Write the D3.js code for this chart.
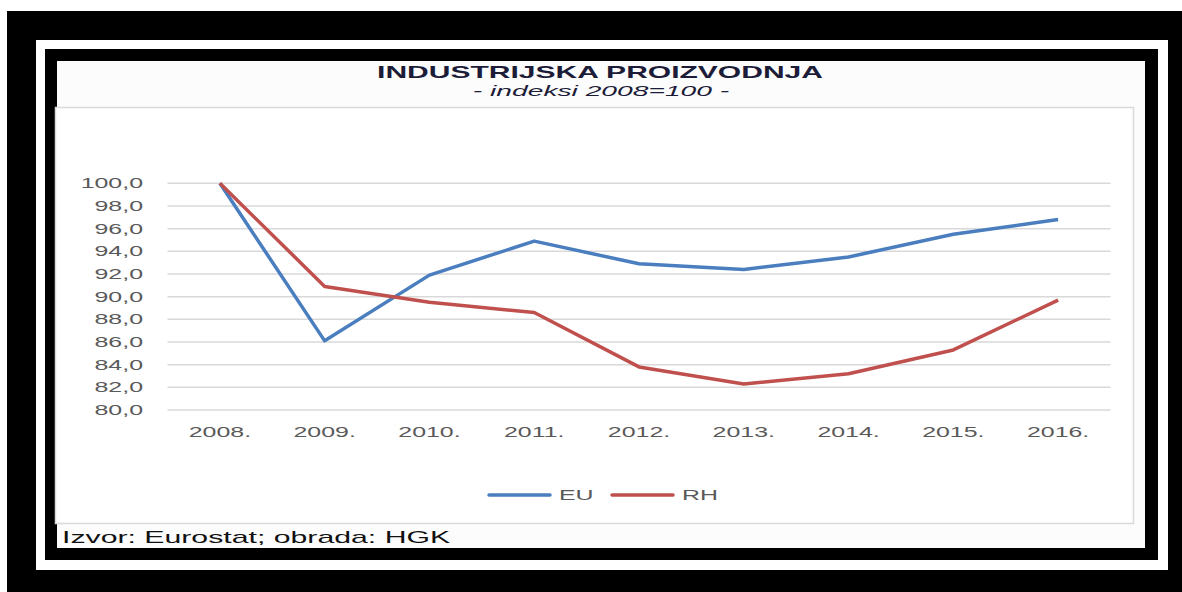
<!DOCTYPE html>
<html>
<head>
<meta charset="utf-8">
<script src="https://cdn.jsdelivr.net/npm/d3@7"></script>
<style>
  body { margin: 0; background: #fff; }
  text { font-family: "Liberation Sans", Arial, sans-serif; }
</style>
</head>
<body>
<div id="chart"></div>
<script>
// data
var years = ["2008.", "2009.", "2010.", "2011.", "2012.", "2013.", "2014.", "2015.", "2016."];
var euValues = [100.0, 86.1, 91.9, 94.9, 92.9, 92.4, 93.5, 95.5, 96.8];
var rhValues = [100.0, 90.9, 89.5, 88.6, 83.8, 82.3, 83.2, 85.3, 89.7];
var yTicks = [80, 82, 84, 86, 88, 90, 92, 94, 96, 98, 100];
var seriesNames = ["EU", "RH"];
var seriesColors = ["#4a7ebf", "#c0504d"];

var W = 1182, H = 592;
var SX = 1.78; // the picture is stretched sideways, so is the text

var svg = d3.select("#chart").append("svg")
  .attr("width", W)
  .attr("height", H);

// frames
svg.append("rect").attr("x", 7).attr("y", 11).attr("width", W - 7).attr("height", H - 11).attr("fill", "#000");
svg.append("rect").attr("x", 36).attr("y", 40).attr("width", 1132).attr("height", 530).attr("fill", "#fff");
svg.append("rect").attr("x", 45).attr("y", 49).attr("width", 1113).attr("height", 511).attr("fill", "#000");
svg.append("rect").attr("x", 57).attr("y", 61).attr("width", 1088).attr("height", 487).attr("fill", "#fcfcfc");

// chart box
svg.append("rect")
  .attr("x", 55.5).attr("y", 107.5)
  .attr("width", 1078).attr("height", 416)
  .attr("fill", "#fff")
  .attr("stroke", "#d9d9d9")
  .attr("stroke-width", 1.5);

// stretched text helper
function addText(x, y, str, opts) {
  var g = svg.append("g")
    .attr("transform", "translate(" + x + "," + y + ") scale(" + (opts.sx || SX) + ",1)");
  return g.append("text")
    .attr("text-anchor", opts.anchor || "start")
    .attr("font-size", opts.size || 14)
    .attr("font-weight", opts.weight || "normal")
    .attr("font-style", opts.style || "normal")
    .attr("fill", opts.color || "#595959")
    .text(str);
}

// title
addText(600, 78, "INDUSTRIJSKA PROIZVODNJA", { anchor: "middle", size: 16.5, weight: "bold", color: "#1c1c38", sx: 1.82 });
addText(601, 96, "- indeksi 2008=100 -", { anchor: "middle", size: 15.5, style: "italic", color: "#1c1c38", sx: 1.82 });

// scales
var margin = { left: 167.5, right: 1110.5, top: 183.3, bottom: 410 };
var x = d3.scalePoint().domain(years).range([margin.left, margin.right]).padding(0.5);
var y = d3.scaleLinear().domain([80, 100]).range([margin.bottom, margin.top]);

// gridlines
svg.append("g").selectAll("line")
  .data(yTicks)
  .enter().append("line")
  .attr("x1", margin.left)
  .attr("x2", margin.right)
  .attr("y1", function(d) { return y(d); })
  .attr("y2", function(d) { return y(d); })
  .attr("stroke", "#d9d9d9")
  .attr("stroke-width", 1.5);

// y labels
var fmt = d3.format(".1f");
yTicks.forEach(function(d) {
  addText(143, y(d) + 5, fmt(d).replace(".", ","), { anchor: "end", size: 14 });
});

// x labels
years.forEach(function(d) {
  addText(x(d), 437, d, { anchor: "middle", size: 14 });
});

// lines
var line = d3.line()
  .x(function(d, i) { return x(years[i]); })
  .y(function(d) { return y(d); });

[euValues, rhValues].forEach(function(vals, i) {
  svg.append("path")
    .attr("d", line(vals))
    .attr("fill", "none")
    .attr("stroke", seriesColors[i])
    .attr("stroke-width", 3.5)
    .attr("stroke-linejoin", "round");
});

// legend
var legendX = [489, 612];
seriesNames.forEach(function(name, i) {
  svg.append("line")
    .attr("x1", legendX[i]).attr("x2", legendX[i] + 61)
    .attr("y1", 495).attr("y2", 495)
    .attr("stroke", seriesColors[i])
    .attr("stroke-width", 3.5)
    .attr("stroke-linecap", "round");
  addText(legendX[i] + 70, 500, name, { size: 14 });
});

// footer
addText(62, 543, "Izvor: Eurostat; obrada: HGK", { size: 16, color: "#111", sx: 1.89 });
</script>
</body>
</html>
